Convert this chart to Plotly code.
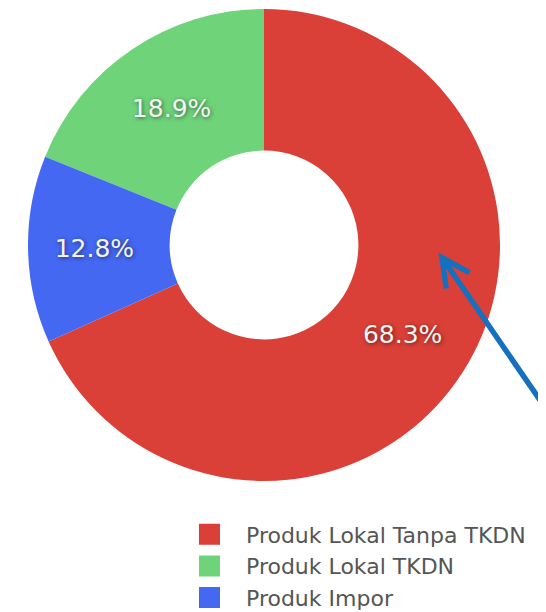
import plotly.graph_objects as go

# =========================================================
# Data
# =========================================================

labels = ["Produk Lokal Tanpa TKDN", "Produk Lokal TKDN", "Produk Impor"]
values = [68.3, 18.9, 12.8]
colors = ["#DA4037", "#6FD37A", "#4468F2"]

W, H = 546, 612
OFF = 8  # page body margin pushes the plot 8px right/down


# pixel helpers (target position in the screenshot -> paper coords)
def px(x):
    return (x - OFF) / W


def py(y):
    return 1 - (y - OFF) / H


fig = go.Figure()

fig.add_trace(go.Pie(
    labels=labels,
    values=values,
    hole=0.4,
    sort=False,
    direction="counterclockwise",
    rotation=0,
    marker=dict(colors=colors, line=dict(width=0)),
    textinfo="percent",
    texttemplate="%{percent:.1%}",
    textposition="inside",
    insidetextorientation="horizontal",
    textfont=dict(
        family="DejaVu Sans",
        size=25,
        color="#f4f4f4",
        shadow="1px 1px 4px rgba(0,0,0,0.55)"
    ),
    domain=dict(x=[px(28), px(500)], y=[py(481), py(9)]),
    showlegend=False,
    hoverinfo="label+percent"
))

# legend entries (bigger square swatches than the pie legend offers)
for name, color in zip(labels, colors):
    fig.add_trace(go.Scatter(
        x=[None], y=[None],
        mode="markers",
        name=name,
        marker=dict(symbol="square", size=16, color=color,
                    line=dict(color=color, width=5)),
        hoverinfo="skip"
    ))

# pointer arrow coming in from the right edge
fig.add_annotation(
    x=px(438.5), y=py(252.5),
    xref="paper", yref="paper",
    ax=128, ay=168,
    text="",
    showarrow=True,
    arrowhead=5,
    arrowsize=1.0,
    arrowwidth=5.5,
    arrowcolor="#1570C0"
)

fig.update_layout(
    width=W,
    height=H,
    margin=dict(l=0, r=0, t=0, b=0),
    paper_bgcolor="white",
    plot_bgcolor="white",
    xaxis=dict(visible=False),
    yaxis=dict(visible=False),
    showlegend=True,
    legend=dict(
        x=px(173), y=py(513.5),
        xanchor="left", yanchor="top",
        itemwidth=63,
        traceorder="normal",
        font=dict(family="DejaVu Sans", size=22, color="#555555"),
        bgcolor="rgba(0,0,0,0)"
    )
)

fig.write_html("out.html")
